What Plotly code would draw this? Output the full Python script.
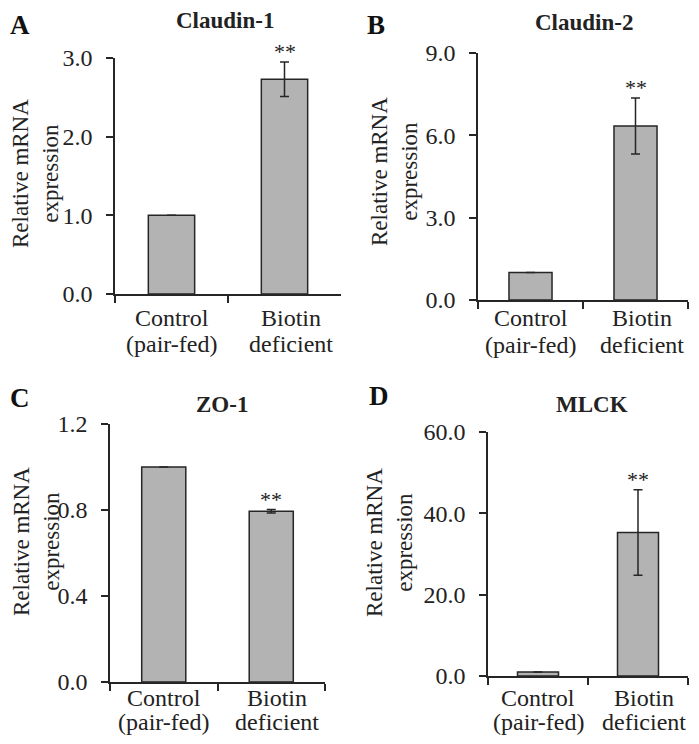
import plotly.graph_objects as go

# page body has an 8px margin, so the figure is a bit smaller than the window
OFF = 8
W, H = 683, 728

categories = ["Control (pair-fed)", "Biotin deficient"]
category_lines = [["Control", "(pair-fed)"], ["Biotin", "deficient"]]

claudin1 = [1.0, 2.73]
claudin1_err = [0.0, 0.22]
claudin2 = [1.0, 6.34]
claudin2_err = [0.0, 1.02]
zo1 = [1.0, 0.794]
zo1_err = [0.0, 0.008]
mlck = [1.0, 35.3]
mlck_err = [0.0, 10.5]

titles = ["Claudin-1", "Claudin-2", "ZO-1", "MLCK"]
letters = ["A", "B", "C", "D"]
y_ranges = [[0, 3], [0, 9], [0, 1.2], [0, 60]]
y_ticks = [[0, 1, 2, 3], [0, 3, 6, 9], [0, 0.4, 0.8, 1.2], [0, 20, 40, 60]]

# panel geometry in window pixels: x0, x1 (axis), ytop, ybottom
boxes = [(115, 341, 58, 294), (478, 688, 53, 300),
         (110, 325, 424, 682), (488, 688, 432, 676)]
title_pos = [(225, 20), (584, 22), (222, 405), (592, 405)]
# None = pinned to the figure edge
letter_pos = [(None, None), (376, None), (None, 398), (379, 396)]
ytitle_pos = [(36, 174), (395, 172), (36, 542), (389, 543)]
catlabel_y = [(318, 344), (318, 345), (698, 722), (698, 722)]

FONT = "Liberation Serif, Times New Roman, serif"
INK = "#262626"


def px(x):
    return (x - OFF) / W


def py(y):
    return 1 - (y - OFF) / H


values = [claudin1, claudin2, zo1, mlck]
errors = [claudin1_err, claudin2_err, zo1_err, mlck_err]

fig = go.Figure()
annotations = []

for i in range(4):
    n = "" if i == 0 else str(i + 1)
    fig.add_trace(go.Bar(
        x=categories, y=values[i],
        error_y=dict(type="data", array=errors[i], visible=True,
                     color=INK, thickness=1.5, width=4.5),
        marker=dict(color="#b3b3b3", line=dict(color=INK, width=1.5)),
        width=0.41,
        xaxis="x" + n, yaxis="y" + n,
        showlegend=False,
    ))
    x0, x1, yt, yb = boxes[i]
    fig.layout["xaxis" + n] = dict(
        domain=[px(x0), px(x1)], anchor="y" + n, automargin=False,
        showline=True, linecolor=INK, linewidth=1.5,
        ticks="outside", tickson="boundaries", ticklen=7, tickwidth=1.5,
        tickcolor=INK, showgrid=False, zeroline=False,
        showticklabels=False, fixedrange=True,
    )
    fig.layout["yaxis" + n] = dict(
        domain=[py(yb), py(yt)], anchor="x" + n, automargin=False,
        range=y_ranges[i], tickvals=y_ticks[i], tickformat=".1f",
        showline=True, linecolor=INK, linewidth=1.5,
        ticks="outside", ticklen=7, tickwidth=1.5, tickcolor=INK,
        ticklabelstandoff=9,
        showgrid=False, zeroline=False,
        tickfont=dict(family=FONT, size=24, color="#222"),
        fixedrange=True,
    )
    # category labels, two tight lines each
    for c, lines in enumerate(category_lines):
        for k, line in enumerate(lines):
            annotations.append(dict(
                x=categories[c], y=py(catlabel_y[i][k]),
                xref="x" + n, yref="paper", text=line, showarrow=False,
                xanchor="center", yanchor="middle", xshift=6 * c,
                font=dict(family=FONT, size=24, color="#222"),
            ))
    # significance stars
    annotations.append(dict(
        x=categories[1], y=values[i][1] + errors[i][1],
        xref="x" + n, yref="y" + n, text="**", showarrow=False,
        yanchor="bottom", yshift=-4,
        font=dict(family=FONT, size=22, color="#222"),
    ))
    tx, ty = title_pos[i]
    annotations.append(dict(
        x=px(tx), y=py(ty), xref="paper", yref="paper",
        text="<b>" + titles[i] + "</b>", showarrow=False,
        xanchor="center", yanchor="middle",
        font=dict(family=FONT, size=23, color="#222"),
    ))
    lx, ly = letter_pos[i]
    annotations.append(dict(
        x=0 if lx is None else px(lx), y=1 if ly is None else py(ly),
        xref="paper", yref="paper",
        text="<b>" + letters[i] + "</b>", showarrow=False,
        xanchor="left" if lx is None else "center",
        yanchor="top" if ly is None else "middle",
        font=dict(family=FONT, size=27, color="#111"),
    ))
    ax, ay = ytitle_pos[i]
    annotations.append(dict(
        x=px(ax), y=py(ay), xref="paper", yref="paper",
        text="Relative mRNA<br>expression", showarrow=False,
        textangle=-90, xanchor="center", yanchor="middle",
        font=dict(family=FONT, size=23, color="#222"),
    ))

fig.update_layout(
    width=W, height=H,
    margin=dict(l=0, r=0, t=0, b=0),
    paper_bgcolor="white", plot_bgcolor="white",
    bargap=0.59,
    annotations=annotations,
)

fig.write_html("out.html")
